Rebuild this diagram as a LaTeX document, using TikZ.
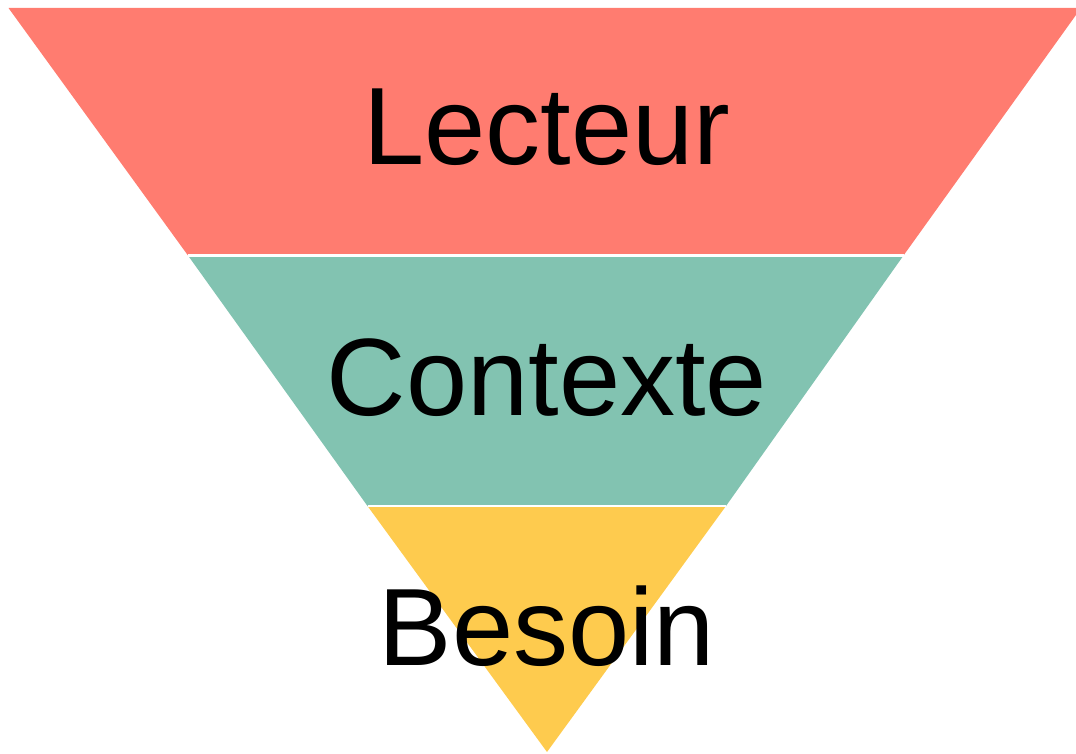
\documentclass[tikz,border=0pt]{standalone}
\usepackage{fontspec}
\setmainfont{Liberation Sans}
\definecolor{Salmon}{HTML}{FF7C70}
\definecolor{Sea}{HTML}{82C3B1}
\definecolor{Sun}{HTML}{FECB4E}
\usetikzlibrary{positioning}

\begin{document}
\begin{tikzpicture}[x=1pt,y=-1pt,every node/.style={font=\fontsize{110}{120}\selectfont,anchor=base}]
\useasboundingbox (0,0) rectangle (1076,754);
\clip (0,0) rectangle (1076,754);
% funnel bands
\coordinate (tl) at (8.5,8);
\coordinate (tr) at (1081,8);
\coordinate (ml1) at (188,255.5);
\coordinate (mr1) at (903.5,255.5);
\coordinate (ml2) at (367.5,506);
\coordinate (mr2) at (726,506);
\coordinate (apex) at (547,752);
\fill[Salmon] (tl)--(tr)--(mr1)--(ml1)--cycle;
\fill[Sea] (ml1)--(mr1)--(mr2)--(ml2)--cycle;
\fill[Sun] (ml2)--(mr2)--(apex)--cycle;
\draw[white,line width=2.5pt] (ml1)--(mr1);
\draw[white,line width=2.5pt] (ml2)--(mr2);
% labels
\node (lecteur) at (547,165) {Lecteur};
\node (contexte) at (547,415) {Contexte};
\node (besoin) at (547,665) {Besoin};
\end{tikzpicture}
\end{document}
